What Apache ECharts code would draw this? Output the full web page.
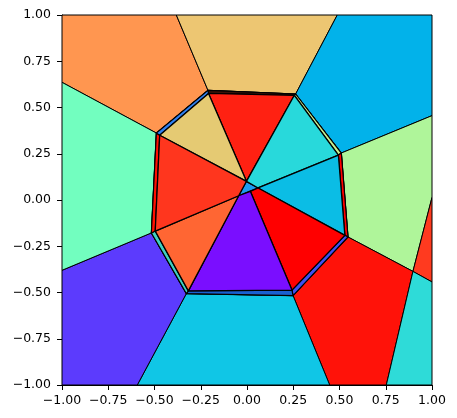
<!DOCTYPE html>
<html>
<head>
<meta charset="utf-8">
<script src="https://cdn.jsdelivr.net/npm/echarts@6/dist/echarts.min.js"></script>
<style>
html,body{margin:0;padding:0;background:#fff;}
#chart{width:457px;height:418px;}
</style>
</head>
<body>
<div id="chart"></div>
<script>
// Axis ticks
const xTicks = [-1, -0.75, -0.5, -0.25, 0, 0.25, 0.5, 0.75, 1];
const yTicks = [-1, -0.75, -0.5, -0.25, 0, 0.25, 0.5, 0.75, 1];

// Outer ring vertices
const ringOuter = [[-0.211,0.593],[0.263,0.573],[0.510,0.254],[0.546,-0.200],[0.249,-0.517],[-0.328,-0.506],[-0.517,-0.178],[-0.490,0.362]];
// Inner octagon vertices
const ringInner = [[-0.208,0.576],[0.256,0.566],[0.494,0.243],[0.529,-0.191],[0.243,-0.487],[-0.317,-0.491],[-0.496,-0.168],[-0.472,0.350]];
// Centre crossing points
const centrePts = [[-0.003,0.101],[0.060,0.065],[0.018,0.047],[-0.045,0.023]];

// Outer Voronoi cells
const outerCells = [
  [[-1,1],[-0.382,1],[-0.211,0.593],[-0.490,0.362],[-1,0.636]],
  [[-0.382,1],[0.488,1],[0.263,0.573],[-0.211,0.593]],
  [[0.488,1],[1,1],[1,0.456],[0.510,0.254],[0.263,0.573]],
  [[0.510,0.254],[1,0.456],[1,0.014],[0.897,-0.386],[0.546,-0.200]],
  [[1,0.014],[1,-0.443],[0.897,-0.386]],
  [[0.546,-0.200],[0.897,-0.386],[0.753,-1],[0.447,-1],[0.249,-0.517]],
  [[0.897,-0.386],[1,-0.443],[1,-1],[0.753,-1]],
  [[-0.328,-0.506],[0.249,-0.517],[0.447,-1],[-0.593,-1]],
  [[-1,-0.380],[-0.517,-0.178],[-0.328,-0.506],[-0.593,-1],[-1,-1]],
  [[-1,0.636],[-0.490,0.362],[-0.517,-0.178],[-1,-0.380]]
];
const outerColors = ['#FF9650','#EDC672','#02B2EA','#AFF59A','#FF3A1F','#FF1209','#2EDBD8','#10C6E6','#5C3BFD','#72FEBF'];

// Thin strips between the outer ring and the inner octagon
const stripColors = ['#3a1208','#C8F08F','#FF0000','#4050F0','#1a60d0','#40D0C0','#FF1000','#3080F0'];

// Inner cells
const innerCells = [
  [centrePts[0],centrePts[1],centrePts[3]],
  [ringInner[0],ringInner[1],centrePts[0]],
  [ringInner[7],ringInner[0],centrePts[0]],
  [ringInner[1],ringInner[2],centrePts[1],centrePts[0]],
  [ringInner[2],ringInner[3],centrePts[1]],
  [ringInner[3],ringInner[4],centrePts[2],centrePts[1]],
  [ringInner[4],ringInner[5],centrePts[3],centrePts[2]],
  [ringInner[5],ringInner[6],centrePts[3]],
  [ringInner[6],ringInner[7],centrePts[0],centrePts[3]]
];
const innerColors = ['#1E9BEF','#FF2112','#E5CA73','#28D9DB','#0BBDE5','#FF0000','#7A0EFF','#FF6633','#FF361E'];

const strips = ringOuter.map((p,i)=>{
  const j=(i+1)%8;
  return [p, ringOuter[j], ringInner[j], ringInner[i]];
});

const polys = [], fills = [], widths = [];
outerCells.forEach((c,i)=>{polys.push(c);fills.push(outerColors[i]);widths.push(1);});
polys.push(ringOuter);fills.push('#202020');widths.push(1);
strips.forEach((c,i)=>{polys.push(c);fills.push(stripColors[i]);widths.push(1.2);});
innerCells.forEach((c,i)=>{polys.push(c);fills.push(innerColors[i]);widths.push(1.3);});

function fmt(v){
  const s = Math.abs(v).toFixed(2);
  return v < 0 ? '\u2212' + s : s;
}

const chart = echarts.init(document.getElementById('chart'), null, {renderer:'canvas'});
const axisCommon = {
  type:'value', min:-1, max:1, interval:0.25,
  axisLine:{show:true, onZero:false, lineStyle:{color:'#000', width:1}},
  axisTick:{show:true, inside:false, length:5, lineStyle:{color:'#000', width:1}},
  splitLine:{show:false},
  axisLabel:{color:'#000', fontFamily:'DejaVu Sans', fontSize:12.5, formatter:fmt, showMinLabel:true, showMaxLabel:true}
};
chart.setOption({
  animation:false,
  backgroundColor:'#fff',
  grid:{left:62, top:15, width:370, height:370, show:true, borderColor:'#000', borderWidth:1, backgroundColor:'transparent'},
  xAxis: Object.assign({}, axisCommon, {axisLabel:Object.assign({}, axisCommon.axisLabel, {margin:9})}),
  yAxis: Object.assign({}, axisCommon, {axisLabel:Object.assign({}, axisCommon.axisLabel, {margin:11})}),
  series:[{
    type:'custom',
    coordinateSystem:'cartesian2d',
    silent:true,
    clip:true,
    data: polys.map((p,i)=>[p[0][0], p[0][1], i]),
    encode:{x:0, y:1},
    renderItem:function(params, api){
      const i = params.dataIndex;
      const pts = polys[i].map(pt=>api.coord(pt));
      return {
        type:'polygon',
        shape:{points:pts},
        style:{fill:fills[i], stroke:'#000', lineWidth:widths[i], lineJoin:'round'}
      };
    }
  }]
});
</script>
</body>
</html>
